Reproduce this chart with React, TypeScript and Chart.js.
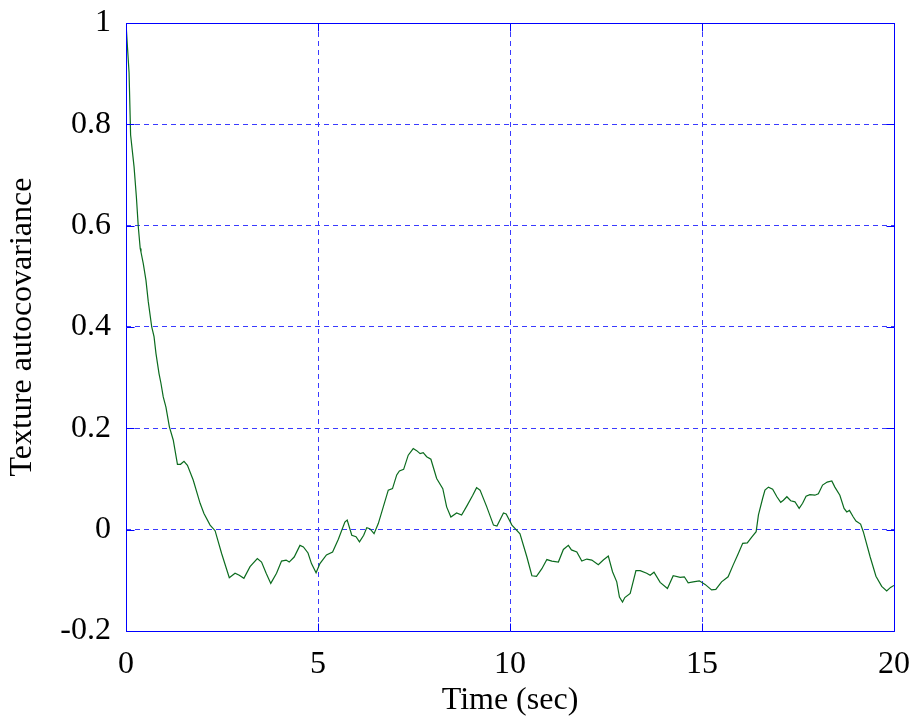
import React, { useEffect, useRef } from "react";
import { Chart, registerables } from "chart.js";

Chart.register(...registerables);

const timeSec: number[] = [
  0.0, 0.04, 0.08, 0.12, 0.21, 0.27, 0.32, 0.37, 0.39, 0.45, 0.52, 0.58, 0.67, 0.73, 0.78, 0.86, 0.91, 0.97,
  1.04, 1.13, 1.23, 1.34, 1.42, 1.51, 1.6, 1.75, 1.93, 2.03, 2.19, 2.32, 2.49, 2.69, 2.84, 2.95, 3.07, 3.23,
  3.42, 3.53, 3.65, 3.77, 3.92, 4.05, 4.17, 4.25, 4.38, 4.53, 4.62, 4.74, 4.83, 4.95, 5.05, 5.22, 5.38, 5.53,
  5.7, 5.76, 5.88, 5.99, 6.08, 6.19, 6.27, 6.35, 6.46, 6.57, 6.7, 6.83, 6.94, 7.05, 7.12, 7.23, 7.35, 7.48,
  7.57, 7.66, 7.74, 7.83, 7.94, 8.09, 8.25, 8.35, 8.46, 8.61, 8.74, 8.87, 9.03, 9.13, 9.22, 9.39, 9.57, 9.66,
  9.83, 9.9, 10.05, 10.26, 10.44, 10.57, 10.69, 10.83, 10.96, 11.09, 11.26, 11.39, 11.52, 11.6, 11.74, 11.87,
  12.0, 12.13, 12.3, 12.43, 12.56, 12.67, 12.78, 12.85, 12.93, 12.99, 13.13, 13.28, 13.39, 13.56, 13.65, 13.75,
  13.91, 14.1, 14.25, 14.43, 14.54, 14.64, 14.77, 14.93, 15.08, 15.25, 15.36, 15.51, 15.68, 15.81, 15.94,
  16.06, 16.18, 16.29, 16.41, 16.47, 16.58, 16.64, 16.73, 16.84, 16.95, 17.05, 17.12, 17.21, 17.31, 17.42,
  17.53, 17.62, 17.71, 17.81, 17.94, 18.03, 18.14, 18.26, 18.38, 18.46, 18.59, 18.7, 18.77, 18.84, 18.94,
  19.01, 19.13, 19.2, 19.38, 19.53, 19.68, 19.81, 19.91, 20.0,
];

const autocov: number[] = [
  1.0, 0.95, 0.902, 0.779, 0.716, 0.657, 0.598, 0.555, 0.548, 0.525, 0.492, 0.45, 0.4, 0.381, 0.348, 0.308, 0.289, 0.262,
  0.242, 0.203, 0.177, 0.129, 0.129, 0.135, 0.127, 0.098, 0.052, 0.032, 0.009, -0.002, -0.047, -0.095, -0.086, -0.09, -0.096, -0.073,
  -0.057, -0.064, -0.086, -0.106, -0.086, -0.062, -0.06, -0.064, -0.054, -0.031, -0.034, -0.046, -0.067, -0.085, -0.067, -0.05, -0.044, -0.019,
  0.015, 0.019, -0.011, -0.014, -0.024, -0.011, 0.004, 0.002, -0.008, 0.012, 0.045, 0.078, 0.081, 0.108, 0.116, 0.119, 0.147, 0.16,
  0.156, 0.15, 0.152, 0.144, 0.139, 0.101, 0.081, 0.045, 0.025, 0.033, 0.029, 0.046, 0.068, 0.083, 0.078, 0.046, 0.009, 0.007,
  0.033, 0.031, 0.009, -0.008, -0.054, -0.091, -0.092, -0.077, -0.059, -0.062, -0.064, -0.039, -0.031, -0.04, -0.044, -0.062,
  -0.058, -0.06, -0.069, -0.06, -0.052, -0.083, -0.103, -0.133, -0.143, -0.134, -0.126, -0.081, -0.081, -0.086, -0.09, -0.084,
  -0.104, -0.116, -0.091, -0.094, -0.093, -0.105, -0.103, -0.101, -0.108, -0.119, -0.118, -0.103, -0.093, -0.07, -0.048,
  -0.027, -0.026, -0.015, -0.004, 0.029, 0.062, 0.078, 0.084, 0.08, 0.065, 0.054, 0.058, 0.065, 0.057, 0.055,
  0.042, 0.052, 0.066, 0.069, 0.068, 0.071, 0.088, 0.094, 0.096, 0.084, 0.068, 0.042, 0.035, 0.038, 0.025,
  0.017, 0.011, -0.004, -0.054, -0.092, -0.112, -0.121, -0.114, -0.11,
];

const xTicks: number[] = [0, 5, 10, 15, 20];
const yTicks: number[] = [-0.2, 0, 0.2, 0.4, 0.6, 0.8, 1];
const yTickLabels: string[] = ["-0.2", "0", "0.2", "0.4", "0.6", "0.8", "1"];

const xTitle = "Time (sec)";
const yTitle = "Texture autocovariance";

const FONT = '"Liberation Serif", "Times New Roman", serif';
const FONT_SIZE = 32;
const AXIS_BLUE = "#0000ff";
const GRID_BLUE = "#3a3aff";

const framePlugin = {
  id: "matlabFrame",
  afterDraw(chart: any) {
    const { ctx, chartArea } = chart;
    const { left, right, top, bottom } = chartArea;
    const xs = chart.scales.x;
    const ys = chart.scales.y;
    const L = 8;
    ctx.save();
    ctx.strokeStyle = AXIS_BLUE;
    ctx.lineWidth = 1;
    ctx.setLineDash([]);
    ctx.beginPath();
    const a = (v: number) => Math.round(v) + 0.5;
    ctx.rect(a(left), a(top), Math.round(right) - Math.round(left), Math.round(bottom) - Math.round(top));
    for (const v of xTicks) {
      const px = a(xs.getPixelForValue(v));
      ctx.moveTo(px, a(bottom));
      ctx.lineTo(px, a(bottom) - L);
      ctx.moveTo(px, a(top));
      ctx.lineTo(px, a(top) + L);
    }
    for (const v of yTicks) {
      const py = a(ys.getPixelForValue(v));
      ctx.moveTo(a(left), py);
      ctx.lineTo(a(left) + L, py);
      ctx.moveTo(a(right), py);
      ctx.lineTo(a(right) - L, py);
    }
    ctx.stroke();
    ctx.restore();
  },
};

export default function App() {
  const ref = useRef<HTMLCanvasElement | null>(null);

  useEffect(() => {
    document.body.style.margin = "0";
    const canvas = ref.current;
    if (!canvas) return;
    const points = timeSec.map((t, i) => ({ x: t, y: autocov[i] }));
    const chart = new Chart(canvas, {
      type: "line",
      data: {
        datasets: [
          {
            data: points,
            borderColor: "#0b6b1e",
            borderWidth: 1.2,
            pointRadius: 0,
            fill: false,
            tension: 0,
          },
        ],
      },
      options: {
        responsive: false,
        animation: false,
        layout: { padding: { left: 0, right: 20, top: 23, bottom: 0 } },
        plugins: {
          legend: { display: false },
          tooltip: { enabled: false },
        },
        scales: {
          x: {
            type: "linear",
            min: 0,
            max: 20,
            afterBuildTicks: (scale: any) => {
              scale.ticks = xTicks.map((v) => ({ value: v }));
            },
            afterFit: (scale: any) => {
              scale.height = 93;
              scale.paddingLeft = 0;
              scale.paddingRight = 0;
            },
            ticks: {
              color: "#000",
              font: { family: FONT, size: FONT_SIZE },
              padding: 14,
              maxRotation: 0,
              callback: (v: any) => String(v),
            },
            grid: {
              color: GRID_BLUE,
              lineWidth: 1,
              drawTicks: false,
            },
            border: { display: false, dash: [5, 4] },
            title: {
              display: true,
              text: xTitle,
              color: "#000",
              font: { family: FONT, size: FONT_SIZE },
              padding: { top: 0, bottom: 4 },
            },
          },
          y: {
            type: "linear",
            min: -0.2,
            max: 1,
            afterBuildTicks: (scale: any) => {
              scale.ticks = yTicks.map((v) => ({ value: v }));
            },
            afterFit: (scale: any) => {
              scale.width = 126;
              scale.paddingTop = 0;
              scale.paddingBottom = 0;
            },
            ticks: {
              color: "#000",
              font: { family: FONT, size: FONT_SIZE },
              padding: 15,
              callback: (v: any) => {
                const i = yTicks.findIndex((t) => Math.abs(t - v) < 1e-9);
                return i >= 0 ? yTickLabels[i] : "";
              },
            },
            grid: {
              color: GRID_BLUE,
              lineWidth: 1,
              drawTicks: false,
            },
            border: { display: false, dash: [5, 4] },
            title: {
              display: true,
              text: yTitle,
              color: "#000",
              font: { family: FONT, size: FONT_SIZE },
              padding: { top: 3, bottom: 0 },
            },
          },
        },
      },
      plugins: [framePlugin],
    } as any);
    return () => chart.destroy();
  }, []);

  return (
    <div style={{ position: "absolute", left: 0, top: 0, width: 914, height: 724, background: "#fff" }}>
      <canvas ref={ref} width={914} height={724} style={{ display: "block" }} />
    </div>
  );
}
